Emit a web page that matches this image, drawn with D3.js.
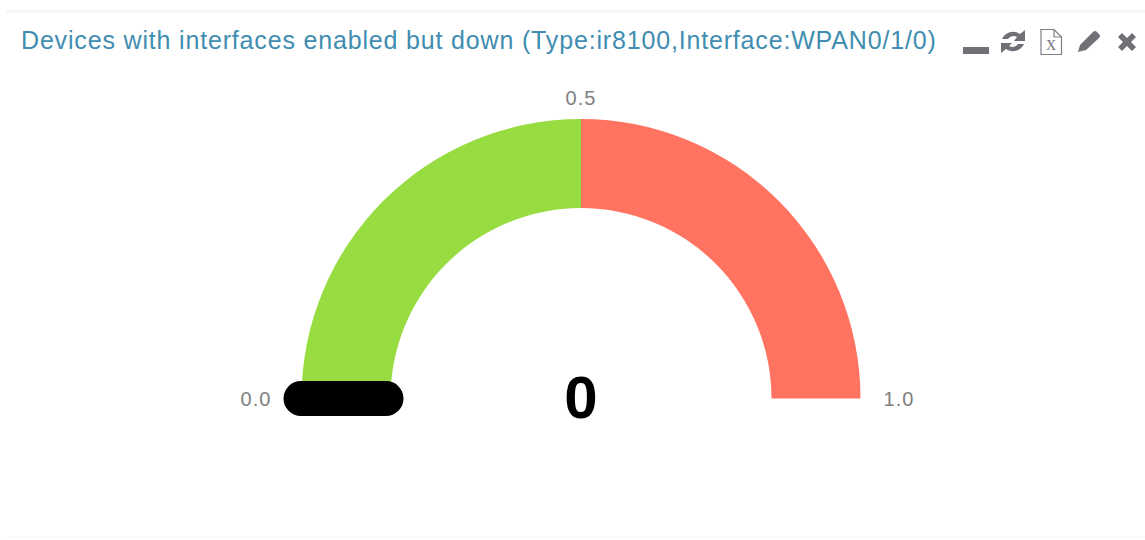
<!DOCTYPE html>
<html>
<head>
<meta charset="utf-8">
<script src="https://cdn.jsdelivr.net/npm/d3@7"></script>
<style>
  html, body { margin: 0; padding: 0; background: #fff; }
  svg { display: block; font-family: "Liberation Sans", Arial, sans-serif; }
</style>
</head>
<body>
<div id="gauge"></div>
<script>
// Chart data
var titleText = "Devices with interfaces enabled but down (Type:ir8100,Interface:WPAN0/1/0)";
var segmentStops = [0, 0.5, 1];
var segmentColors = ["#97dc40", "#ff7360"];
var tickValues = [0, 0.5, 1];
var tickLabels = ["0.0", "0.5", "1.0"];
var currentValue = 0;

var svgWidth = 1145;
var svgHeight = 540;
var cx = 581;
var cy = 398.5;
var outerR = 279.5;
var innerR = 190.5;

var svg = d3.select("#gauge")
  .append("svg")
  .attr("width", svgWidth)
  .attr("height", svgHeight);

// panel edges
svg.append("rect").attr("x", 6).attr("y", 10).attr("width", 1139).attr("height", 3).attr("fill", "#f7f7f7");
svg.append("rect").attr("x", 6).attr("y", 536).attr("width", 1139).attr("height", 2).attr("fill", "#f9f9f9");

// title
svg.append("text")
  .attr("x", 21)
  .attr("y", 49)
  .attr("font-size", 25)
  .attr("letter-spacing", 0.83)
  .attr("fill", "#3f8db0")
  .text(titleText);

// value to angle, 0 is straight up
var angle = d3.scaleLinear().domain([0, 1]).range([-Math.PI / 2, Math.PI / 2]);

var chartGroup = svg.append("g")
  .attr("transform", `translate(${cx}, ${cy})`);

var arc = d3.arc().innerRadius(innerR).outerRadius(outerR);

chartGroup.selectAll("path.segment")
  .data(segmentColors)
  .enter()
  .append("path")
  .attr("class", "segment")
  .attr("fill", d => d)
  .attr("d", (d, i) => arc({ startAngle: angle(segmentStops[i]), endAngle: angle(segmentStops[i + 1]) }));

// tick labels sit just outside the arc
var labelR = d3.scaleOrdinal().domain(tickValues).range([325, 301, 318]);
chartGroup.selectAll("text.tick")
  .data(tickValues)
  .enter()
  .append("text")
  .attr("class", "tick")
  .attr("x", d => Math.sin(angle(d)) * labelR(d))
  .attr("y", d => -Math.cos(angle(d)) * labelR(d) + 7)
  .attr("text-anchor", "middle")
  .attr("font-size", 20)
  .attr("letter-spacing", 1)
  .attr("fill", "#808080")
  .text((d, i) => tickLabels[i]);

// needle
var needleFrom = 195;
var needleTo = 280;
var a = angle(currentValue);
chartGroup.append("line")
  .attr("x1", Math.sin(a) * needleFrom)
  .attr("y1", -Math.cos(a) * needleFrom)
  .attr("x2", Math.sin(a) * needleTo)
  .attr("y2", -Math.cos(a) * needleTo)
  .attr("stroke", "#000")
  .attr("stroke-width", 35)
  .attr("stroke-linecap", "round");

// value
chartGroup.append("text")
  .attr("x", 0)
  .attr("y", 19)
  .attr("text-anchor", "middle")
  .attr("font-size", 60)
  .attr("font-weight", "bold")
  .attr("fill", "#000")
  .text(currentValue);

// toolbar icons
var icons = svg.append("g").attr("fill", "#6f7177");
icons.append("rect").attr("x", 963).attr("y", 47).attr("width", 26).attr("height", 7);
icons.append("path")
  .attr("d", "M1002 39 A12 12 0 0 1 1020 34 L1025 30 V41 H1014 L1017 37 A6.5 6.5 0 0 0 1008 39 Z M1024 44 A12 12 0 0 1 1006 49 L1001 53 V43 H1012 L1009 46 A6.5 6.5 0 0 0 1018 44 Z");
svg.append("path")
  .attr("d", "M1041 29.5 H1054 L1061.5 37 V54.5 H1041 Z M1054 29.5 V37 H1061.5")
  .attr("fill", "none")
  .attr("stroke", "#7d7f85")
  .attr("stroke-width", 1.2);
svg.append("text")
  .attr("x", 1051)
  .attr("y", 50)
  .attr("text-anchor", "middle")
  .attr("font-family", "Liberation Serif, serif")
  .attr("font-size", 14)
  .attr("fill", "#6f7177")
  .text("X");
icons.append("path")
  .attr("d", "M1078 52 L1080 45 L1093 32 Q1095 30 1097 32 L1099 34 Q1101 36 1099 38 L1086 50 Z");
icons.append("path")
  .attr("d", "M1118 37 L1122 33 L1127 38 L1132 33 L1136 37 L1131 42 L1136 47 L1132 51 L1127 46 L1122 51 L1118 47 L1123 42 Z");
</script>
</body>
</html>
